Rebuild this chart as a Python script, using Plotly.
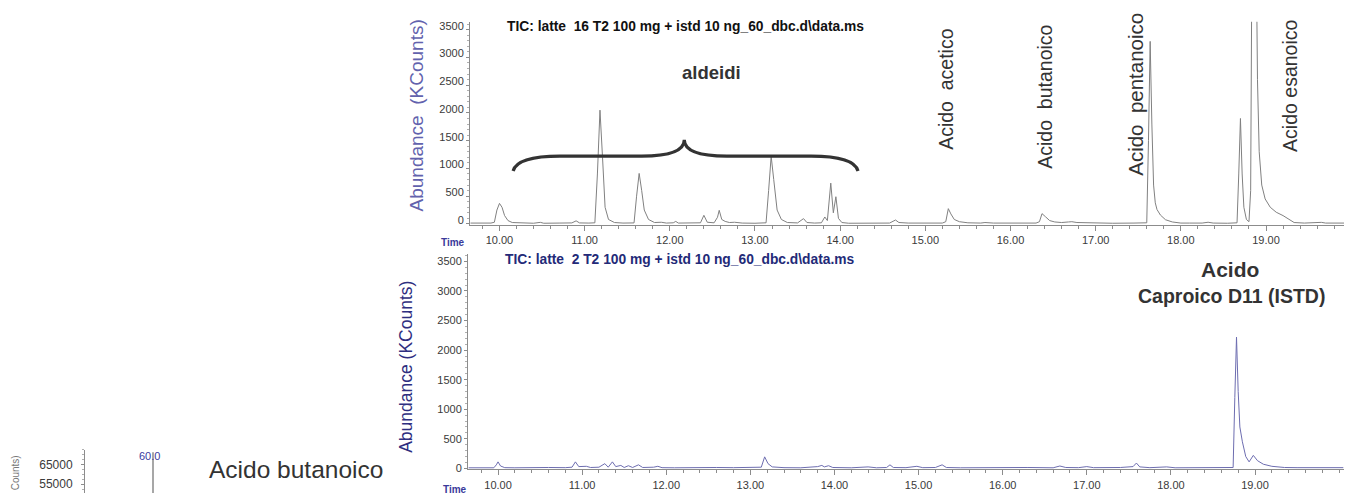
import plotly.graph_objects as go

W, H = 1352, 493

# ---------------- data ----------------
# upper chromatogram: TIC latte 16 T2 (time, min / abundance, KCounts)
top_time = [9.66, 9.80, 9.90, 9.94, 9.97, 10.00, 10.03, 10.06, 10.10, 10.15, 10.25, 10.40, 10.48, 10.52,
            10.70, 10.85, 10.90, 10.94, 11.05, 11.12, 11.15, 11.18, 11.21, 11.24, 11.28, 11.35, 11.45,
            11.58, 11.61, 11.64, 11.67, 11.70, 11.75, 11.82, 11.90, 11.96, 12.04, 12.07, 12.10, 12.20,
            12.30, 12.36, 12.40, 12.44, 12.52, 12.56, 12.58, 12.61, 12.65, 12.70, 12.76, 12.85, 13.00,
            13.13, 13.16, 13.19, 13.22, 13.26, 13.31, 13.38, 13.50, 13.57, 13.61, 13.70, 13.78, 13.82,
            13.85, 13.89, 13.92, 13.95, 13.98, 14.02, 14.10, 14.30, 14.38, 14.45, 14.58, 14.65, 14.69,
            14.80, 14.95, 15.20, 15.24, 15.27, 15.30, 15.34, 15.40, 15.50, 15.65, 15.70, 15.80, 16.00,
            16.10, 16.30, 16.34, 16.37, 16.41, 16.46, 16.52, 16.60, 16.68, 16.72, 16.78, 16.90, 17.00,
            17.20, 17.45, 17.60, 17.62, 17.64, 17.66, 17.68, 17.70, 17.72, 17.76, 17.82, 17.90, 18.00,
            18.10, 18.25, 18.32, 18.38, 18.55, 18.66, 18.68, 18.70, 18.72, 18.74, 18.77, 18.80, 18.82,
            18.835, 18.86, 18.885, 18.90, 18.92, 18.95, 18.99, 19.05, 19.12, 19.20, 19.28, 19.33, 19.45,
            19.60, 19.65, 19.70, 19.85, 19.99]
top_abund = [15, 12, 15, 30, 250, 370, 300, 150, 60, 25, 15, 12, 28, 12,
             15, 18, 55, 18, 15, 20, 900, 2050, 1200, 300, 80, 25, 15,
             18, 500, 910, 600, 250, 80, 25, 30, 15, 20, 45, 15, 12,
             15, 20, 155, 30, 20, 120, 245, 80, 45, 25, 30, 15, 12,
             20, 600, 1220, 800, 250, 80, 25, 18, 95, 25, 15, 20, 125,
             60, 735, 200, 490, 100, 25, 12, 15, 25, 15, 15, 70, 25,
             15, 12, 15, 40, 275, 180, 80, 40, 20, 15, 25, 15, 20,
             12, 15, 40, 185, 130, 60, 35, 25, 35, 40, 25, 18, 15,
             12, 15, 20, 1500, 3290, 1800, 700, 380, 260, 160, 75, 35, 15,
             15, 15, 30, 15, 12, 20, 900, 1900, 900, 300, 80, 40, 600,
             5000, 7000, 5000, 2600, 1300, 700, 450, 300, 210, 150, 70, 25, 15,
             18, 28, 15, 12, 15]

# lower chromatogram: TIC latte 2 T2
bot_time = [9.65, 9.80, 9.95, 9.98, 10.00, 10.03, 10.08, 10.20, 10.35, 10.50, 10.60, 10.80, 10.88, 10.92,
            10.96, 11.05, 11.10, 11.20, 11.27, 11.31, 11.36, 11.40, 11.46, 11.50, 11.55, 11.60, 11.67,
            11.72, 11.85, 11.90, 11.95, 12.10, 12.30, 12.40, 12.50, 12.60, 12.80, 13.00, 13.13, 13.17,
            13.21, 13.26, 13.40, 13.60, 13.80, 13.85, 13.88, 13.93, 13.98, 14.20, 14.40, 14.50, 14.62,
            14.66, 14.70, 14.85, 14.98, 15.05, 15.20, 15.28, 15.33, 15.50, 15.80, 16.00, 16.30, 16.60,
            16.68, 16.75, 16.90, 17.00, 17.08, 17.40, 17.55, 17.59, 17.63, 17.75, 17.95, 18.05, 18.40,
            18.60, 18.74, 18.76, 18.78, 18.80, 18.82, 18.85, 18.89, 18.93, 18.98, 19.03, 19.10, 19.20,
            19.35, 19.50, 19.70, 20.05]
bot_abund = [10, 12, 10, 60, 110, 40, 12, 10, 15, 10, 15, 12, 20, 110,
             30, 35, 15, 20, 80, 20, 110, 30, 50, 15, 45, 15, 60,
             15, 20, 35, 12, 10, 12, 20, 25, 15, 12, 10, 20, 195,
             80, 25, 12, 10, 30, 50, 25, 45, 15, 10, 25, 10, 15,
             60, 15, 12, 35, 12, 15, 60, 15, 10, 15, 12, 15, 10,
             40, 15, 12, 30, 12, 15, 30, 90, 25, 12, 25, 10, 12,
             10, 15, 1200, 2220, 1300, 700, 450, 200, 110, 220, 130, 70, 35,
             15, 12, 10, 12]

# mass spectrum fragment (bottom-left corner)
ms_mz = [60.0]
ms_intensity = [71200]
ms_ticks = [55000, 65000]

y_ticks = [0, 500, 1000, 1500, 2000, 2500, 3000, 3500]
x_ticks = [10, 11, 12, 13, 14, 15, 16, 17, 18, 19]
x_tick_labels = ["10.00", "11.00", "12.00", "13.00", "14.00", "15.00", "16.00", "17.00", "18.00", "19.00"]

# ---------------- helpers ----------------
def px(x):
    return x / W

def py(y):
    return 1 - y / H

FONT = "Arial, Liberation Sans, sans-serif"
AX = "#8c8c8c"
TXT = "#3a3a3a"

fig = go.Figure()

fig.add_trace(go.Scatter(x=top_time, y=top_abund, mode="lines",
                         line=dict(color="#808080", width=1), xaxis="x", yaxis="y",
                         showlegend=False, hoverinfo="skip"))
fig.add_trace(go.Scatter(x=bot_time, y=bot_abund, mode="lines",
                         line=dict(color="#6d6db0", width=1), xaxis="x2", yaxis="y2",
                         showlegend=False, hoverinfo="skip"))
fig.add_trace(go.Scatter(x=[ms_mz[0], ms_mz[0]], y=[0, ms_intensity[0]], mode="lines",
                         line=dict(color="#8a8a8a", width=1.5), xaxis="x3", yaxis="y3",
                         showlegend=False, hoverinfo="skip"))

def xax(domain, rng, anchor):
    return dict(domain=domain, range=rng, anchor=anchor, showline=True, linecolor=AX, linewidth=1,
                ticks="outside", ticklen=5, tickcolor=AX, tickvals=x_ticks, ticktext=x_tick_labels,
                tickfont=dict(family=FONT, size=11, color=TXT), showgrid=False, zeroline=False,
                minor=dict(dtick=0.2, tick0=10, ticks="outside", ticklen=3, tickcolor=AX, showgrid=False),
                fixedrange=True)

def yax(domain, rng, anchor, shift=0):
    return dict(domain=domain, range=rng, anchor=anchor, showline=True, linecolor=AX, linewidth=1,
                ticks="outside", ticklen=3, tickcolor=AX, tickvals=y_ticks,
                tickfont=dict(family=FONT, size=11, color=TXT), showgrid=False, zeroline=False,
                ticklabelshift=shift,
                minor=dict(dtick=100, ticks="outside", ticklen=2, tickcolor="#b0b0b0", showgrid=False),
                fixedrange=True)

fig.update_layout(
    width=W, height=H, margin=dict(l=0, r=0, t=0, b=0),
    paper_bgcolor="white", plot_bgcolor="white",
    xaxis=xax([px(462), px(1343)], [9.654, 19.998], "y"),
    yaxis=yax([py(218), py(12)], [-18, 3642], "x", shift=-4),
    xaxis2=xax([px(460), px(1337)], [9.643, 20.07], "y2"),
    yaxis2=yax([py(466), py(248)], [-17, 3617], "x2"),
    xaxis3=dict(domain=[px(77), px(200)], range=[26, 87.5], anchor="y3", visible=False, fixedrange=True),
    yaxis3=dict(domain=[0, py(446)], range=[49000, 72500], anchor="x3", showline=True, linecolor=AX,
                ticks="outside", ticklen=3, tickcolor=AX, tickvals=ms_ticks, tickformat="d",
                ticklabelstandoff=6,
                tickfont=dict(family=FONT, size=12, color=TXT), showgrid=False, zeroline=False,
                minor=dict(dtick=2500, ticks="outside", ticklen=2, tickcolor="#b0b0b0"),
                fixedrange=True),
    showlegend=False,
)

# brace over the aldehydes (data coordinates of the upper panel)
brace_x = [10.16, 12.17, 14.21]
brace_y = [954, 1220, 1515]
bx0, bxc, bx1 = brace_x
by0, byh, byc = brace_y
path = (f"M {bx0},{by0} Q {bx0 + 0.05},{byh} {bx0 + 0.55},{byh} L {bxc - 0.5},{byh} "
        f"Q {bxc},{byh} {bxc},{byc} Q {bxc},{byh} {bxc + 0.5},{byh} L {bx1 - 0.55},{byh} "
        f"Q {bx1 - 0.05},{byh} {bx1},{by0}")
fig.add_shape(type="path", path=path, xref="x", yref="y", line=dict(color="#333333", width=3.2))

# end-of-axis marks on the time axes
for xe, y0e, y1e in [(1343, 211, 226), (1337, 459, 474)]:
    fig.add_shape(type="line", xref="paper", yref="paper", x0=px(xe), x1=px(xe), y0=py(y0e), y1=py(y1e),
                  line=dict(color=AX, width=1))

def ann(text, x, y, size, color=TXT, bold=False, angle=0, xanchor="center", yanchor="middle"):
    t = f"<b>{text}</b>" if bold else text
    fig.add_annotation(text=t, x=px(x), y=py(y), xref="paper", yref="paper", showarrow=False,
                       textangle=angle, xanchor=xanchor, yanchor=yanchor,
                       font=dict(family=FONT, size=size, color=color))

# titles
ann("TIC: latte  16 T2 100 mg + istd 10 ng_60_dbc.d\\data.ms", 677, 17, 13.8, color="#111111", bold=True)
ann("TIC: latte  2 T2 100 mg + istd 10 ng_60_dbc.d\\data.ms", 672, 253, 13.8, color="#232a78", bold=True)

# axis titles
ann("Abundance  (KCounts)", 408, 107, 19, color="#6262ad", angle=-90)
ann("Abundance (KCounts)", 398, 362, 17.5, color="#2e2e80", angle=-90)
ann("Time", 445, 236, 10, color="#3a3a9a", bold=True)
ann("Time", 447, 486, 10, color="#3a3a9a", bold=True)

# peak labels, upper panel
ann("aldeidi", 703, 63, 18.5, color="#333333", bold=True)
ann("Acido  acetico", 938, 80, 19.5, color="#333333", angle=-90)
ann("Acido  butanoico", 1037, 88, 19.5, color="#333333", angle=-90)
ann("Acido  pentanoico", 1128, 86, 20.5, color="#333333", angle=-90)
ann("Acido esanoico", 1282, 77, 19.5, color="#333333", angle=-90)

# ISTD label, lower panel
ann("Acido", 1222, 263, 21, color="#333333", bold=True)
ann("Caproico D11 (ISTD)", 1223, 290, 19.5, color="#333333", bold=True)

# mass spectrum fragment texts
ann("Counts)", 7, 470, 10, color="#777777", angle=-90)
ann("60.0", 141, 452, 11, color="#3a3aa0")
ann("Acido butanoico", 288, 466, 24.5, color="#333333")

fig.write_html("out.html")
